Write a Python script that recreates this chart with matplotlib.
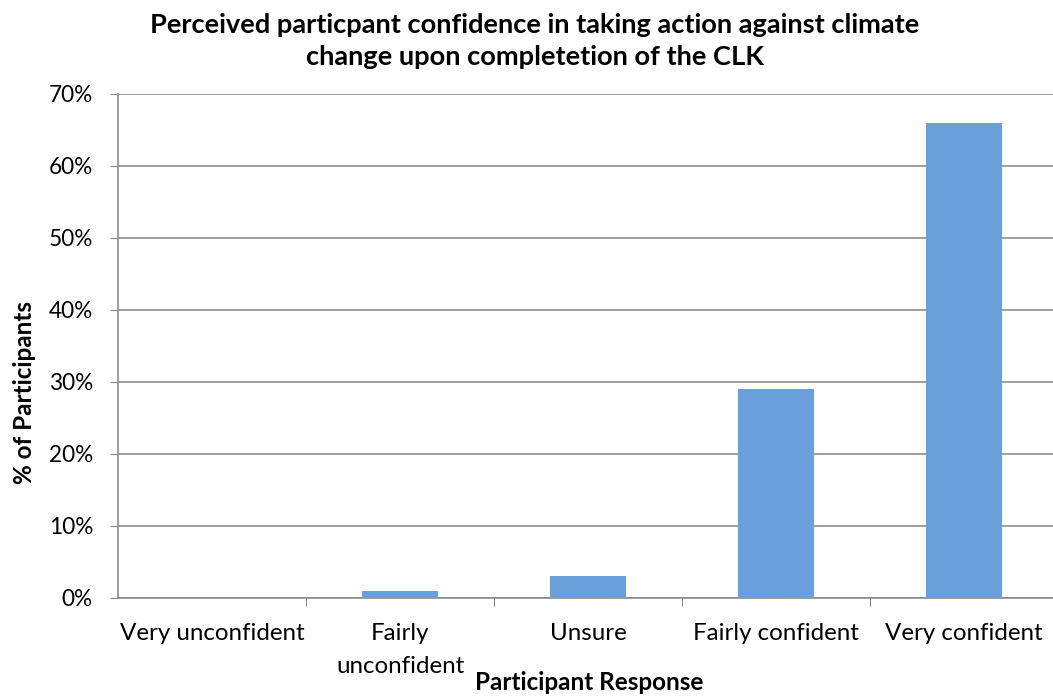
import matplotlib
matplotlib.use("Agg")
import matplotlib.pyplot as plt
from matplotlib.ticker import FuncFormatter

# Data
categories = ["Very unconfident", "Fairly\nunconfident", "Unsure", "Fairly confident", "Very confident"]
percent = [0, 1, 3, 29, 66]

plt.rcParams["font.family"] = ["Lato", "DejaVu Sans"]

fig = plt.figure(figsize=(10.53, 6.97), dpi=100)
ax = fig.add_axes([118 / 1053, 1 - 598 / 697, 940 / 1053, 504 / 697])

x = range(len(categories))
ax.bar(x, percent, width=0.4, color="#6A9FDB", zorder=3)

ax.set_xlim(-0.5, len(categories) - 0.5)
ax.set_ylim(0, 70)
ax.set_yticks(range(0, 71, 10))
ax.yaxis.set_major_formatter(FuncFormatter(lambda v, p: "%d%%" % v))
ax.grid(axis="y", color="#8c8c8c", linewidth=1.2, zorder=0)

# category boundaries get the tick marks, labels sit in between
ax.set_xticks([i + 0.5 for i in range(len(categories) - 1)])
ax.set_xticklabels([])
ax.set_xticks(list(x), minor=True)
ax.set_xticklabels(categories, minor=True, fontsize=17.4, linespacing=1.7)
ax.tick_params(axis="x", which="major", length=6, color="#8c8c8c", direction="out")
ax.tick_params(axis="x", which="minor", length=0, pad=18)
ax.tick_params(axis="y", length=6, color="#8c8c8c", labelsize=16.3, pad=12)

for side in ["top", "right"]:
    ax.spines[side].set_visible(False)
ax.spines["left"].set_color("#8c8c8c")
ax.spines["bottom"].set_color("#8c8c8c")
ax.spines["left"].set_linewidth(1.2)
ax.spines["bottom"].set_linewidth(1.2)

fig.text(535 / 1053, 1 - 41 / 697,
         "Perceived particpant confidence in taking action against climate\nchange upon completetion of the CLK",
         ha="center", va="center", fontsize=19.6, fontweight="bold", linespacing=1.4)
fig.text(589 / 1053, 1 - 682 / 697, "Participant Response", ha="center", va="center",
         fontsize=17.5, fontweight="bold")
fig.text(25 / 1053, 1 - 392 / 697, "% of Participants", ha="center", va="center",
         rotation=90, fontsize=17.5, fontweight="bold")

fig.savefig("out.png", dpi=100)
